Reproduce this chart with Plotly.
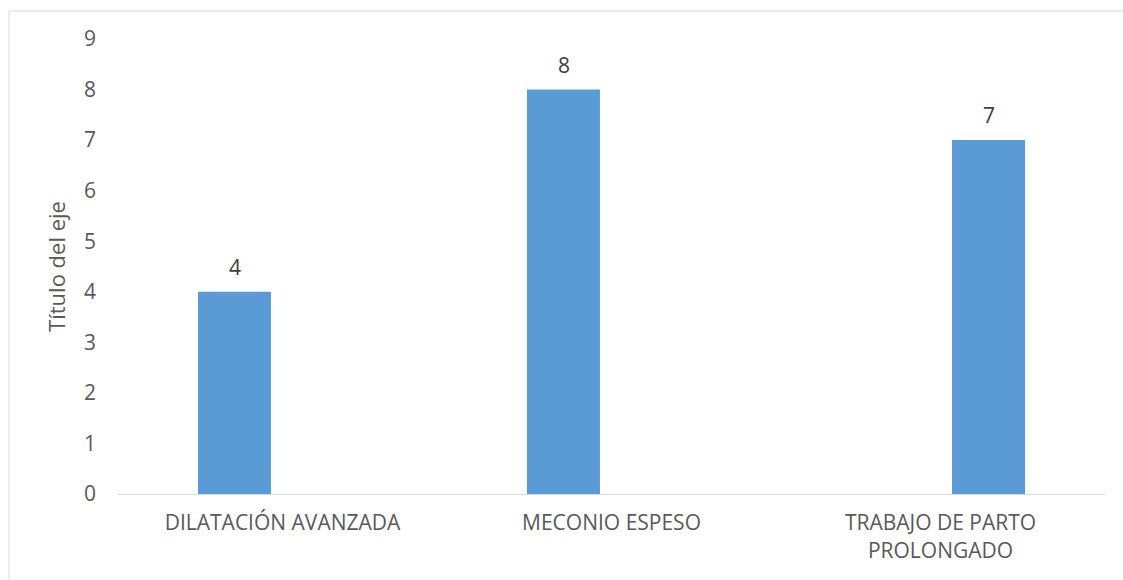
import plotly.graph_objects as go

categories = ["DILATACIÓN AVANZADA", "MECONIO ESPESO", "TRABAJO DE PARTO<br>PROLONGADO"]
series_a = [4, 8, None]
series_b = [None, None, 7]
y_ticks = [0, 1, 2, 3, 4, 5, 6, 7, 8, 9]

BAR = "#5B9BD5"
TXT = "#595959"
FONT = "Open Sans"

fig = go.Figure()
fig.add_trace(go.Bar(x=categories, y=series_a, marker=dict(color=BAR, line=dict(width=0)), showlegend=False))
fig.add_trace(go.Bar(x=categories, y=series_b, marker=dict(color=BAR, line=dict(width=0)), showlegend=False))

offsets = [-48, 48]
for off, ser in zip(offsets, [series_a, series_b]):
    for c, v in zip(categories, ser):
        if v is None:
            continue
        fig.add_annotation(x=c, y=v, text=str(v), showarrow=False, xshift=off, yshift=9,
                           yanchor="bottom", font=dict(family=FONT, size=21, color="#404040"))

fig.add_shape(type="rect", xref="paper", yref="paper", x0=-0.1104, x1=1.2, y0=-0.3, y1=1.0614,
              line=dict(color="#D9D9D9", width=1), fillcolor="rgba(0,0,0,0)", layer="below")

fig.update_layout(
    width=1123, height=580,
    margin=dict(l=118, r=18, t=38.5, b=85.5),
    paper_bgcolor="white", plot_bgcolor="white",
    barmode="group", bargap=0.416, bargroupgap=0.24,
    font=dict(family=FONT, color=TXT, size=21),
    xaxis=dict(showline=True, linecolor="#D9D9D9", linewidth=1, showgrid=False, ticks="",
               tickfont=dict(family=FONT, size=21, color=TXT), ticklabelstandoff=10),
    yaxis=dict(range=[0, 9], tickvals=y_ticks, showgrid=False, zeroline=False, showline=False, ticks="",
               tickfont=dict(family=FONT, size=21, color=TXT), ticklabelstandoff=21,
               title=dict(text="Título del eje", font=dict(family=FONT, size=22, color=TXT), standoff=12)),
)

fig.write_html("out.html")
